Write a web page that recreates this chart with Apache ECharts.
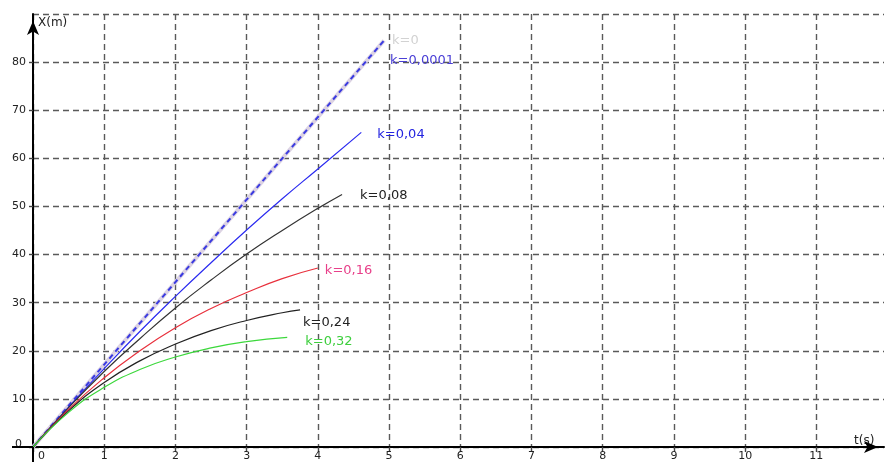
<!DOCTYPE html>
<html>
<head>
<meta charset="utf-8">
<script src="https://cdn.jsdelivr.net/npm/echarts@6/dist/echarts.min.js"></script>
<style>
  html, body { margin: 0; padding: 0; background: #ffffff; }
  #chart { width: 886px; height: 462px; }
</style>
</head>
<body>
<div id="chart"></div>
<script>
// Distance X (m) travelled against time t (s) for several drag coefficients k
const xTicks = [0, 1, 2, 3, 4, 5, 6, 7, 8, 9, 10, 11];
const yTicks = [0, 10, 20, 30, 40, 50, 60, 70, 80];

const k0T = [0, 4.93];
const k0X = [0, 84.5];

const k00001T = [0, 4.93];
const k00001X = [0, 84.5];

const k004T = [0, 0.5, 1, 1.5, 2, 2.5, 3, 3.5, 4, 4.61];
const k004X = [0, 8.3, 16.3, 24.0, 31.3, 38.3, 45.1, 51.6, 57.8, 65.4];

const k008T = [0, 0.5, 1, 1.5, 2, 2.5, 3, 3.5, 4, 4.34];
const k008X = [0, 8.2, 15.7, 22.5, 28.9, 34.7, 40.1, 45.0, 49.6, 52.5];

const k016T = [0, 0.5, 1, 1.5, 2, 2.5, 3, 3.5, 4];
const k016X = [0, 7.8, 14.4, 20.0, 24.8, 28.8, 32.1, 35.0, 37.2];

const k024T = [0, 0.5, 1, 1.5, 2, 2.5, 3, 3.5, 3.75];
const k024X = [0, 7.5, 13.4, 17.9, 21.4, 24.2, 26.3, 27.9, 28.5];

const k032T = [0, 0.5, 1, 1.5, 2, 2.5, 3, 3.57];
const k032X = [0, 7.2, 12.4, 16.1, 18.7, 20.6, 21.9, 22.8];

const FONT = 'DejaVu Sans';

function pairs(ts, xs) {
  return ts.map((t, i) => [t, xs[i]]);
}

function curve(name, ts, xs, lineStyle, labelColor, offset) {
  return {
    name: name,
    type: 'line',
    data: pairs(ts, xs),
    smooth: true,
    showSymbol: false,
    symbol: 'none',
    lineStyle: lineStyle,
    endLabel: {
      show: true,
      formatter: name,
      color: labelColor,
      fontFamily: FONT,
      fontSize: 13,
      offset: offset
    }
  };
}

const chart = echarts.init(document.getElementById('chart'), null, { renderer: 'canvas' });

const GRID_COLOR = '#5a5a5a';
// vertical grid: one dashed line per whole second, none at the axis end
const xGridColors = xTicks.map(() => GRID_COLOR).concat(['rgba(0,0,0,0)']);

chart.setOption({
  animation: false,
  backgroundColor: '#ffffff',
  grid: { left: 33, top: 14, right: 2, bottom: 14, containLabel: false },
  xAxis: {
    type: 'value',
    min: 0,
    max: 11.95,
    interval: 1,
    name: 't(s)',
    nameLocation: 'end',
    nameGap: -30,
    nameTextStyle: { fontFamily: FONT, fontSize: 12, color: '#222', verticalAlign: 'bottom', align: 'left', padding: [0, 0, 0, 0] },
    axisLine: { show: true, onZero: false, lineStyle: { color: '#000', width: 2 }, symbol: ['none', 'arrow'], symbolSize: [9, 14], symbolOffset: [0, -6] },
    axisTick: { show: true, length: 5, lineStyle: { color: '#444', width: 1.4 } },
    axisLabel: {
      fontFamily: FONT, fontSize: 11, color: '#222', margin: 4,
      showMaxLabel: false,
      formatter: v => (xTicks.indexOf(v) >= 0 ? (v === 0 ? '{z|0}' : String(v)) : ''),
      rich: { z: { fontFamily: FONT, fontSize: 11, color: '#222', padding: [0, 0, 0, 17] } }
    },
    splitLine: { show: true, lineStyle: { color: xGridColors, width: 1.4, type: [6, 4] } }
  },
  yAxis: {
    type: 'value',
    min: 0,
    max: 90,
    interval: 10,
    name: 'X(m)',
    nameLocation: 'end',
    nameGap: -9,
    nameTextStyle: { fontFamily: FONT, fontSize: 12, color: '#222', align: 'left', verticalAlign: 'middle', padding: [0, 0, 0, 5] },
    axisLine: { show: true, onZero: false, lineStyle: { color: '#000', width: 2 }, symbol: ['none', 'arrow'], symbolSize: [9, 14], symbolOffset: [0, -7] },
    axisTick: { show: true, length: 4, lineStyle: { color: '#444', width: 1.4 } },
    axisLabel: {
      fontFamily: FONT, fontSize: 11, color: '#222', margin: 7,
      showMaxLabel: false,
      formatter: v => (yTicks.indexOf(v) >= 0 ? (v === 0 ? '{z|0}' : String(v)) : ''),
      rich: { z: { fontFamily: FONT, fontSize: 11, color: '#222', padding: [0, 4, 5, 0] } }
    },
    splitLine: { show: true, lineStyle: { color: GRID_COLOR, width: 1.4, type: [6, 4] } }
  },
  series: [
    curve('k=0', k0T, k0X, { color: '#dcd3e3', width: 4 }, '#d2d2d2', [0, 0]),
    curve('k=0,0001', k00001T, k00001X, { color: '#3a3ae0', width: 2, type: [5, 4] }, '#4a3fd6', [-2, 20]),
    curve('k=0,04', k004T, k004X, { color: '#2b2bf0', width: 1.2 }, '#2323e0', [8, 2]),
    curve('k=0,08', k008T, k008X, { color: '#333333', width: 1.2 }, '#222222', [10, 1]),
    curve('k=0,16', k016T, k016X, { color: '#e8303c', width: 1.2 }, '#e8408a', [-1, 3]),
    curve('k=0,24', k024T, k024X, { color: '#222222', width: 1.2 }, '#222222', [-5, 13]),
    curve('k=0,32', k032T, k032X, { color: '#3cd83c', width: 1.2 }, '#3ecf3e', [10, 4])
  ]
});

// Short stubs of both axes beyond the origin
const origin = chart.convertToPixel({ gridIndex: 0 }, [0, 0]);
chart.setOption({
  graphic: [
    { type: 'line', shape: { x1: origin[0] - 21, y1: origin[1], x2: origin[0], y2: origin[1] }, style: { stroke: '#000', lineWidth: 2 }, z: 10 },
    { type: 'line', shape: { x1: origin[0], y1: origin[1], x2: origin[0], y2: origin[1] + 16 }, style: { stroke: '#000', lineWidth: 2 }, z: 10 }
  ]
});
</script>
</body>
</html>
